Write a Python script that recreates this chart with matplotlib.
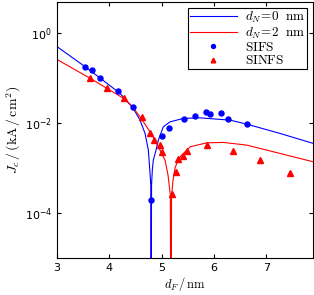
import matplotlib
matplotlib.use("Agg")
import matplotlib.pyplot as plt
import numpy as np

plt.rcParams['mathtext.fontset'] = 'cm'

# measured points
sifs_d = [3.535, 3.675, 3.816, 4.161, 4.447, 4.797, 5.008, 5.147, 5.428, 5.633,
          5.843, 5.925, 6.130, 6.275, 6.623]
sifs_jc = [0.177, 0.154, 0.101, 0.0509, 0.0224, 1.95e-4, 5.13e-3, 7.85e-3, 0.01228,
           0.01455, 0.01786, 0.01563, 0.0167, 0.01228, 9.4e-3]

sinfs_d = [3.637, 3.956, 4.275, 4.631, 4.778, 4.860, 4.969, 5.008, 5.199, 5.266,
           5.310, 5.415, 5.491, 5.872, 6.356, 6.885, 7.445]
sinfs_jc = [0.0993, 0.0594, 0.0356, 0.01375, 6.08e-3, 4.18e-3, 3.23e-3, 2.32e-3,
            2.57e-4, 8.2e-4, 1.55e-3, 1.88e-3, 2.38e-3, 3.30e-3, 2.41e-3, 1.50e-3, 7.8e-4]

# theory curves (log10 of Jc)
fit0_d = [3.0, 3.541, 3.88, 4.205, 4.447, 4.587, 4.683, 4.746, 4.774, 4.793, 4.797,
          4.807, 4.822, 4.841, 4.893, 4.937, 5.032, 5.161, 5.415, 5.734, 6.308,
          6.627, 7.264, 7.901]
fit0_log = [-0.294, -0.745, -1.045, -1.338, -1.650, -1.933, -2.230, -2.602, -3.048, -3.382, -9.0,
            -3.382, -3.048, -2.825, -2.602, -2.379, -2.082, -1.971, -1.895, -1.882, -1.933,
            -2.022, -2.230, -2.453]

fit2_d = [3.0, 3.637, 3.956, 4.275, 4.434, 4.587, 4.778, 4.874, 4.969, 5.065, 5.122,
          5.166, 5.180, 5.189, 5.218, 5.256, 5.304, 5.352, 5.543, 5.862, 6.180,
          6.627, 7.264, 7.901]
fit2_log = [-0.580, -1.003, -1.226, -1.449, -1.621, -1.860, -2.194, -2.379, -2.602, -2.825, -3.159,
            -3.605, -9.0, -3.643, -3.271, -3.003, -2.847, -2.751, -2.528, -2.439, -2.430,
            -2.490, -2.676, -2.863]

fig = plt.figure(figsize=(3.14, 2.95), dpi=100)
ax = fig.add_axes([0.1815, 0.1264, 0.8165, 0.8666])

ax.semilogy(fit0_d, 10.0 ** np.array(fit0_log), color='blue', lw=0.8,
            label=r'$d_N\!=\!0\ \ \mathrm{nm}$')
ax.semilogy(fit2_d, 10.0 ** np.array(fit2_log), color='red', lw=0.8,
            label=r'$d_N\!=\!2\ \ \mathrm{nm}$')
ax.semilogy(sifs_d, sifs_jc, 'o', color='blue', ms=3.6, label=r'$\mathrm{SIFS}$')
ax.semilogy(sinfs_d, sinfs_jc, '^', color='red', ms=4.2, label=r'$\mathrm{SINFS}$')

ax.set_xlim(3, 7.9)
ax.set_ylim(1e-5, 5)
ax.set_xticks([3, 4, 5, 6, 7])
ax.set_yticks([1e-4, 1e-2, 1e0])
ax.minorticks_off()
ax.tick_params(direction='in', top=True, right=True, length=3, labelsize=8)

ax.set_xlabel(r'$d_F\,/\,\mathrm{nm}$', fontsize=9, labelpad=2)
ax.set_ylabel(r'$J_c\,/\,(\mathrm{kA}\,/\,\mathrm{cm}^2)$', fontsize=10, labelpad=1)

leg = ax.legend(loc='upper right', fontsize=9.5, fancybox=False, framealpha=1,
                borderaxespad=0.45, handlelength=3.6, labelspacing=0.02,
                borderpad=0.15, handletextpad=0.6, markerscale=0.8)
leg.get_frame().set_edgecolor('black')
leg.get_frame().set_linewidth(0.8)

fig.savefig('out.png', dpi=100)
